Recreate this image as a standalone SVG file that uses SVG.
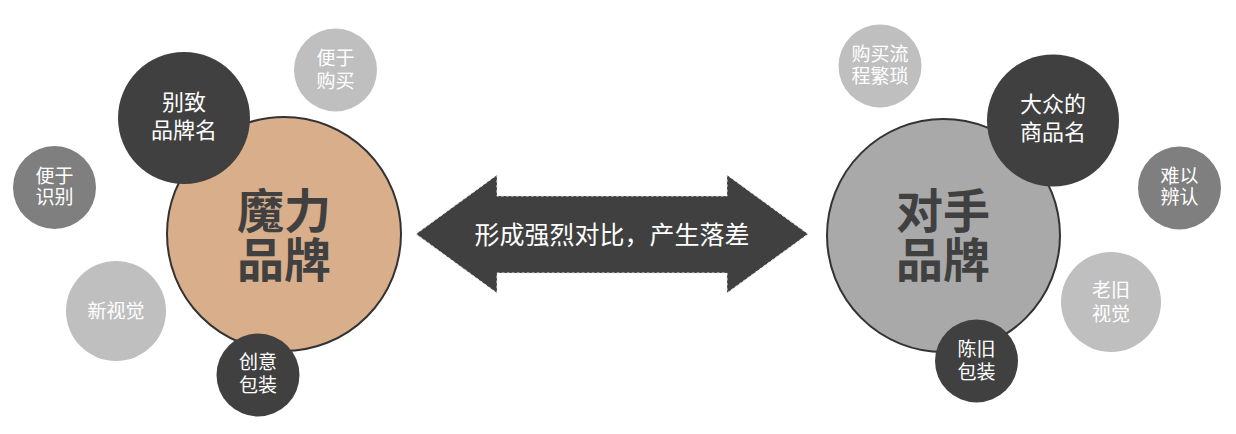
<svg xmlns="http://www.w3.org/2000/svg" width="1236" height="434" viewBox="0 0 1236 434">
<style>
text{font-family:"Noto Sans CJK SC","Noto Sans",sans-serif;text-anchor:middle}
.big{font-size:47px;font-weight:bold;fill:#404040}
.w{fill:#ffffff}
.s18{font-size:19px}
.s20{font-size:22px}
.dark{fill:#404040}
.mid{fill:#7f7f7f}
.light{fill:#bfbfbf}
.main{stroke:#333;stroke-width:2}
</style>
<rect width="1236" height="434" fill="#fff"/>
<g id="connectors">
<path d="M416,234 L497,175 L497,196 L727,196 L727,175 L808,234 L727,293 L727,273 L497,273 L497,293 Z" fill="#404040" stroke="#e6e6e6" stroke-width="1" stroke-dasharray="3,2"/>
<text x="612" y="244" font-size="25" class="w">形成强烈对比，产生落差</text>
</g>
<g id="left-main"><circle cx="284" cy="234" r="117" fill="#d9ae8a" class="main"/><text class="big"><tspan x="284" y="228">魔力</tspan><tspan x="284" y="277">品牌</tspan></text></g>
<g id="left-buy"><circle cx="335.5" cy="70" r="41.5" class="light"/><text class="w s18"><tspan x="335.5" y="65">便于</tspan><tspan x="335.5" y="88">购买</tspan></text></g>
<g id="left-name"><circle cx="184" cy="118" r="66" class="dark"/><text class="w s20"><tspan x="184" y="110">别致</tspan><tspan x="184" y="138">品牌名</tspan></text></g>
<g id="left-ident"><circle cx="54.5" cy="187.5" r="41.5" class="mid"/><text class="w s18"><tspan x="54.5" y="183">便于</tspan><tspan x="54.5" y="204">识别</tspan></text></g>
<g id="left-visual"><circle cx="116" cy="311" r="50" class="light"/><text class="w s18" x="116" y="318">新视觉</text></g>
<g id="left-pack"><circle cx="258" cy="375" r="41.5" class="dark"/><text class="w s18"><tspan x="258" y="369">创意</tspan><tspan x="258" y="392">包装</tspan></text></g>
<g id="right-main"><circle cx="943.5" cy="235.5" r="116.5" fill="#a9a9a9" class="main"/><text class="big"><tspan x="943" y="228">对手</tspan><tspan x="943" y="277">品牌</tspan></text></g>
<g id="right-buy"><circle cx="880" cy="66" r="41.5" class="light"/><text class="w s18"><tspan x="880" y="61">购买流</tspan><tspan x="880" y="83">程繁琐</tspan></text></g>
<g id="right-name"><circle cx="1053" cy="120.5" r="66" class="dark"/><text class="w s20"><tspan x="1053" y="112">大众的</tspan><tspan x="1053" y="140">商品名</tspan></text></g>
<g id="right-ident"><circle cx="1179.5" cy="188" r="41.5" class="mid"/><text class="w s18"><tspan x="1179.5" y="183">难以</tspan><tspan x="1179.5" y="204">辨认</tspan></text></g>
<g id="right-visual"><circle cx="1111" cy="302" r="50" class="light"/><text class="w s18"><tspan x="1111" y="297">老旧</tspan><tspan x="1111" y="321">视觉</tspan></text></g>
<g id="right-pack"><circle cx="976.5" cy="361" r="41.5" class="dark"/><text class="w s18"><tspan x="976.5" y="356">陈旧</tspan><tspan x="976.5" y="379">包装</tspan></text></g>
</svg>
